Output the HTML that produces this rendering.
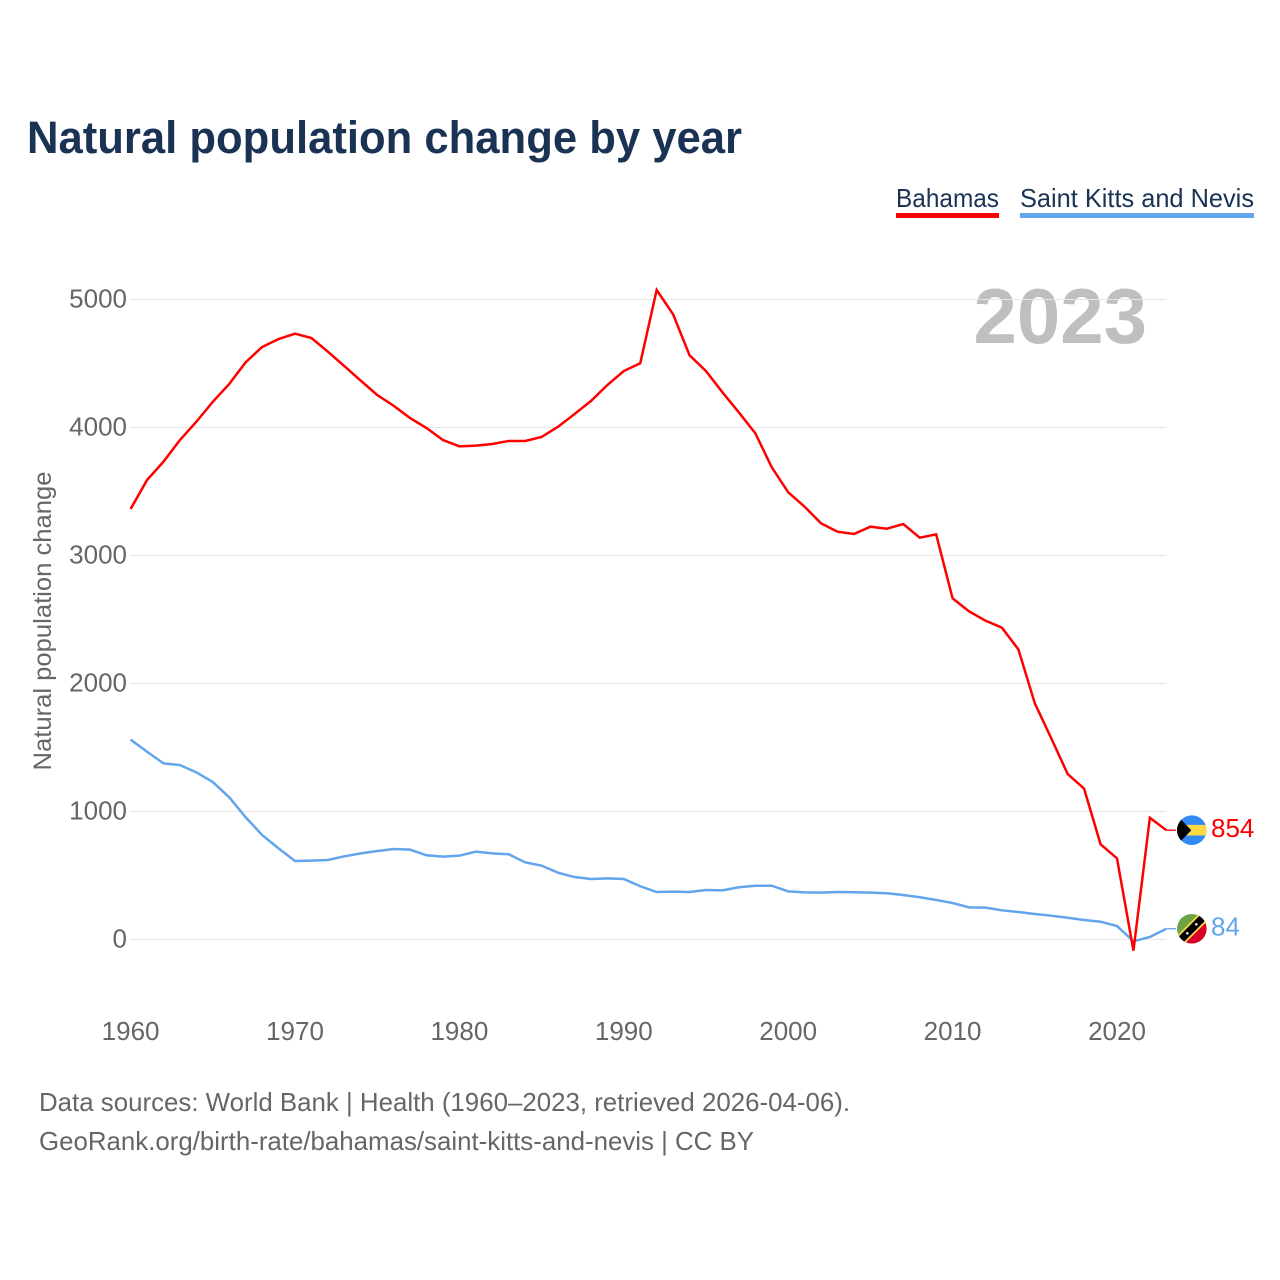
<!DOCTYPE html>
<html lang="en">
<head>
<meta charset="utf-8">
<title>Natural population change by year</title>
<style>
html,body{margin:0;padding:0;background:#fff;width:1280px;height:1280px;overflow:hidden}
svg{display:block;font-family:"Liberation Sans",sans-serif}
</style>
</head>
<body>
<svg id="chart" xmlns="http://www.w3.org/2000/svg" width="1280" height="1280" viewBox="0 0 1280 1280">
  <defs>
    <clipPath id="flag-clip"><circle cx="0" cy="0" r="14.8"></circle></clipPath>
  </defs>
  <text x="27" y="153" font-size="45" font-weight="700" fill="#1a3355" textLength="715" lengthAdjust="spacingAndGlyphs">Natural population change by year</text>

  <g>
    <g>
      <text x="896" y="207" font-size="26" fill="#1a3355" textLength="103" lengthAdjust="spacingAndGlyphs">Bahamas</text>
      <rect x="896" y="213" width="103" height="5" fill="#ff0000"></rect>
    </g>
    <g>
      <text x="1020" y="207" font-size="26" fill="#1a3355" textLength="234" lengthAdjust="spacingAndGlyphs">Saint Kitts and Nevis</text>
      <rect x="1020" y="213" width="234" height="5" fill="#62a5ec"></rect>
    </g>
  </g>

  <text x="1147" y="343" font-size="78" font-weight="700" fill="#bfbfbf" text-anchor="end">2023</text>

  <g id="grid-layer"></g>
  <g id="y-tick-layer"></g>
  <g id="x-tick-layer"></g>
  <text transform="translate(51,621) rotate(-90)" font-size="25" fill="#666666" text-anchor="middle" textLength="299" lengthAdjust="spacingAndGlyphs">Natural population change</text>

  <g id="series-layer"></g>
  <g id="end-layer"></g>

  <g>
    <text x="39" y="1111" font-size="26" fill="#666666" textLength="811" lengthAdjust="spacingAndGlyphs">Data sources: World Bank | Health (1960–2023, retrieved 2026-04-06).</text>
    <text x="39" y="1150" font-size="26" fill="#666666" textLength="715" lengthAdjust="spacingAndGlyphs">GeoRank.org/birth-rate/bahamas/saint-kitts-and-nevis | CC BY</text>
  </g>
</svg>
<script>
const startYear = 1960;
const yTickValues = [0, 1000, 2000, 3000, 4000, 5000];
const xTickYears = [1960, 1970, 1980, 1990, 2000, 2010, 2020];
const bahamasValues = [
  3363, 3590, 3733, 3902, 4045, 4201, 4340, 4510, 4629, 4691,
  4733, 4699, 4592, 4480, 4366, 4254, 4170, 4074, 3996, 3902,
  3853, 3858, 3871, 3895, 3895, 3926, 4006, 4105, 4207, 4332,
  4441, 4502, 5074, 4884, 4564, 4441, 4275, 4118, 3955, 3689,
  3494, 3381, 3251, 3186, 3168, 3225, 3209, 3246, 3139, 3165,
  2665, 2564, 2491, 2436, 2267, 1845, 1572, 1293, 1178, 744,
  634, -87, 951, 854
];
const kittsValues = [
  1561, 1467, 1376, 1363, 1306, 1230, 1111, 955, 816, 712,
  613, 616, 621, 650, 673, 691, 707, 702, 658, 647,
  655, 686, 673, 666, 603, 577, 522, 488, 473, 478,
  473, 416, 371, 374, 371, 387, 384, 408, 420, 420,
  376, 368, 366, 371, 369, 366, 361, 348, 330, 309,
  285, 251, 249, 228, 215, 199, 186, 170, 152, 139,
  105, -14, 20, 84
];

const SVG_NS = 'http://www.w3.org/2000/svg';
const RED = '#ff0000';
const BLUE = '#62a5ec';

function xScale(year) { return 130.6 + (year - 1960) * 16.44; }
function yScale(value) { return 939.5 - value * 0.128; }

function make(tag, attrs, parent) {
  const el = document.createElementNS(SVG_NS, tag);
  for (const k in attrs) el.setAttribute(k, attrs[k]);
  parent.appendChild(el);
  return el;
}

const gridLayer = document.getElementById('grid-layer');
const yTickLayer = document.getElementById('y-tick-layer');
const xTickLayer = document.getElementById('x-tick-layer');
const seriesLayer = document.getElementById('series-layer');
const endLayer = document.getElementById('end-layer');

const lastYear = startYear + bahamasValues.length - 1;

yTickValues.forEach(function (v) {
  const line = make('line', { x1: 130, x2: xScale(lastYear), y1: yScale(v), y2: yScale(v), stroke: '#e6e6e6', 'stroke-width': 1 }, gridLayer);
  
  
  const label = make('text', { x: 127, y: yScale(v) + 8, 'font-size': 26, fill: '#666666', 'text-anchor': 'end' }, yTickLayer);
  
  
  label.textContent = String(v);
});

xTickYears.forEach(function (year) {
  const label = make('text', { x: xScale(year), y: 1040, 'font-size': 26, fill: '#666666', 'text-anchor': 'middle' }, xTickLayer);
  
  
  label.textContent = String(year);
});

function pointsFor(values) {
  return values.map(function (v, i) {
    return xScale(startYear + i).toFixed(2) + ',' + yScale(v).toFixed(2);
  }).join(' ');
}

const kittsLine = make('polyline', { points: pointsFor(kittsValues), fill: 'none', stroke: BLUE, 'stroke-width': 2.5, 'stroke-linejoin': 'miter' }, seriesLayer);



const bahamasLine = make('polyline', { points: pointsFor(bahamasValues), fill: 'none', stroke: RED, 'stroke-width': 2.5, 'stroke-linejoin': 'miter' }, seriesLayer);



function endLabel(name, values, color, baselineOffset) {
  const v = values[values.length - 1];
  const stub = make('line', { x1: xScale(lastYear), x2: 1176, y1: yScale(v), y2: yScale(v), stroke: color, 'stroke-width': 1.3 }, endLayer);
  
  
  const label = make('text', { x: 1211, y: yScale(v) + baselineOffset, 'font-size': 26, fill: color }, endLayer);
  
  
  label.textContent = String(v);
}
endLabel('end-label-bahamas', bahamasValues, RED, 7);
endLabel('end-label-saint-kitts-and-nevis', kittsValues, BLUE, 7);

/* Bahamas flag */
const bsFlag = make('g', { transform: 'translate(1191.8,' + yScale(bahamasValues[bahamasValues.length - 1]) + ')', 'clip-path': 'url(#flag-clip)' }, endLayer);


make('rect', { x: -16, y: -16, width: 32, height: 32, fill: '#338af3' }, bsFlag);
make('rect', { x: -16, y: -5.3, width: 32, height: 10.6, fill: '#ffda44' }, bsFlag);
make('polygon', { points: '-16,-16 -0.5,0 -16,16', fill: '#000000' }, bsFlag);

/* Saint Kitts and Nevis flag */
const knFlag = make('g', { transform: 'translate(1191.8,' + yScale(kittsValues[kittsValues.length - 1]) + ')', 'clip-path': 'url(#flag-clip)' }, endLayer);


make('rect', { x: -16, y: -16, width: 32, height: 32, fill: '#6da544' }, knFlag);
make('polygon', { points: '16,-16 16,16 -16,16', fill: '#d80027' }, knFlag);
make('line', { x1: -16, y1: 16, x2: 16, y2: -16, stroke: '#ffda44', 'stroke-width': 11 }, knFlag);
make('line', { x1: -16, y1: 16, x2: 16, y2: -16, stroke: '#000000', 'stroke-width': 7.5 }, knFlag);
make('circle', { cx: -4.5, cy: 4.5, r: 1.3, fill: '#f0f0f0' }, knFlag);
make('circle', { cx: 4.5, cy: -4.5, r: 1.3, fill: '#f0f0f0' }, knFlag);
</script>
</body>
</html>
